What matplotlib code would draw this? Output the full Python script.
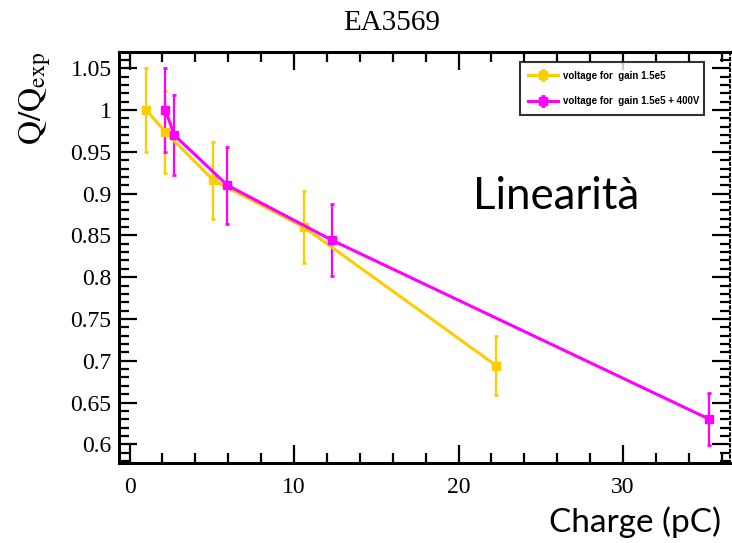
import numpy as np
import matplotlib
matplotlib.use('Agg')
import matplotlib.pyplot as plt
from matplotlib.ticker import MultipleLocator

plt.rcParams.update({'font.family': 'Liberation Serif',
                     'mathtext.fontset': 'stix',
                     'xtick.direction': 'in',
                     'ytick.direction': 'in'})

# data
q_gain = [1.02, 2.16, 5.09, 10.59, 22.3]       # charge (pC), gain 1.5e5
r_gain = [1.000, 0.974, 0.916, 0.860, 0.694]
e_gain = [0.050, 0.049, 0.046, 0.043, 0.035]

q_400 = [2.18, 2.72, 5.95, 12.33, 35.25]       # charge (pC), gain 1.5e5 + 400V
r_400 = [1.000, 0.970, 0.910, 0.844, 0.630]
e_400 = [0.050, 0.048, 0.046, 0.043, 0.031]

c_gain = '#FFCC00'
c_400 = '#FF00FF'

fig = plt.figure(figsize=(7.32, 5.43), dpi=100)
ax = fig.add_axes([0.1619, 0.1473, 0.8354, 0.7575])

ax.errorbar(q_gain, r_gain, yerr=e_gain, fmt='s-', color=c_gain, lw=2.2,
            ms=6, elinewidth=1.6, capsize=1.2, capthick=2,
            label='voltage for  gain 1.5e5')
ax.errorbar(q_400, r_400, yerr=e_400, fmt='s-', color=c_400, lw=2.2,
            ms=6, elinewidth=1.6, capsize=1.2, capthick=2,
            label='voltage for  gain 1.5e5 + 400V')

ax.set_xlim(-0.67, 36.5)
ax.set_ylim(0.5776, 1.0698)
ax.xaxis.set_major_locator(MultipleLocator(10))
ax.xaxis.set_minor_locator(MultipleLocator(2))
ax.yaxis.set_major_locator(MultipleLocator(0.05))
ax.yaxis.set_minor_locator(MultipleLocator(0.01))
ax.yaxis.set_major_formatter(plt.FuncFormatter(lambda v, p: ('%.2f' % v).rstrip('0').rstrip('.')))

ax.tick_params(which='both', top=True, right=True, labelsize=17, width=1.6,
               labelfontfamily='Liberation Serif')
ax.tick_params(which='major', length=13)
ax.tick_params(which='minor', length=7)
ax.tick_params(axis='x', pad=10)
ax.tick_params(axis='y', pad=5)
for s in ['left', 'bottom', 'top']:
    ax.spines[s].set_linewidth(2.2)
ax.spines['right'].set_linewidth(1.5)
ax.spines['right'].set_linestyle(':')

fig.text(0.5355, 0.957, 'EA3569', fontsize=21, ha='center', va='center')
ax.set_ylabel(r'$\mathrm{Q/Q_{exp}}$', fontsize=24, ha='right', y=1.0)
ax.yaxis.set_label_coords(-0.107, 1.0)

ax.text(0.58, 0.648, 'Linearità', transform=ax.transAxes, fontsize=31.5,
        family='Lato', ha='left', va='center')
fig.text(0.985, 0.038, 'Charge (pC)', fontsize=24, family='Lato',
         ha='right', va='center')

leg = ax.legend(loc='upper left', bbox_to_anchor=(0.648, 0.987, 0.318, 0.0),
                mode='expand', prop={'family': 'Liberation Sans', 'weight': 'bold', 'size': 7.0},
                frameon=True, fancybox=False, borderpad=0.9, labelspacing=1.6,
                handlelength=3.0, handletextpad=0.6)
leg.get_frame().set_edgecolor('black')
leg.get_frame().set_linewidth(1.5)

plt.savefig('out.png', dpi=100)
